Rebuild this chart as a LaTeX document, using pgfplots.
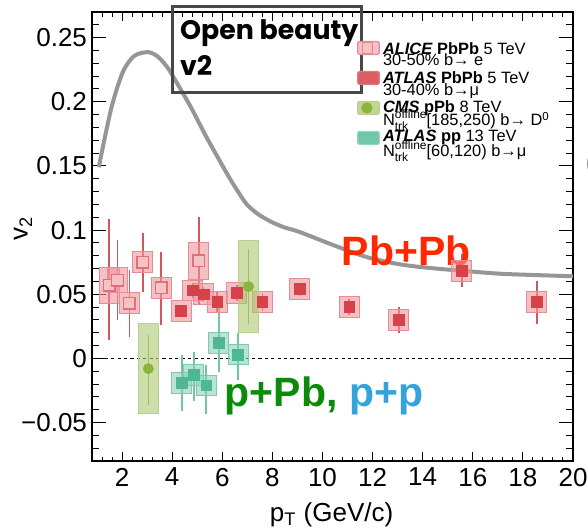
\documentclass[border=0pt]{standalone}
\usepackage{fontspec}
\setmainfont{Liberation Sans}
\newfontfamily\titlefont{Poppins}
\usepackage{pgfplots}
\usepackage{pgfplotstable}
\pgfplotsset{compat=1.18}

% colours
\definecolor{boxred}{RGB}{238,150,157}
\definecolor{boxredline}{RGB}{230,140,148}
\definecolor{redmk}{RGB}{214,66,74}
\definecolor{rederr}{RGB}{214,84,92}
\definecolor{alicemk}{RGB}{222,112,120}
\definecolor{aliceinner}{RGB}{245,194,198}
\definecolor{boxgreen}{RGB}{172,200,113}
\definecolor{boxgreenline}{RGB}{185,208,140}
\definecolor{cmsgreen}{RGB}{140,180,60}
\definecolor{boxteal}{RGB}{138,210,183}
\definecolor{boxtealline}{RGB}{130,200,175}
\definecolor{tealmk}{RGB}{78,184,150}
\definecolor{tealerr}{RGB}{110,198,168}
\definecolor{curvegray}{RGB}{150,150,150}
\definecolor{pbred}{RGB}{255,40,0}
\definecolor{ppbgreen}{RGB}{10,140,10}
\definecolor{ppblue}{RGB}{52,163,220}

% x  v2  stat+  stat-  syst
\pgfplotstableread{
x     y      ep     em     sy
1.49  0.057  0.052  0.043  0.014
1.82  0.061  0.031  0.031  0.010
2.29  0.043  0.026  0.026  0.008
2.83  0.075  0.023  0.023  0.008
3.56  0.055  0.028  0.029  0.008
5.06  0.076  0.034  0.034  0.0145
}\alice

\pgfplotstableread{
x      y      ep     em     sy
4.36   0.037  0.005  0.005  0.008
4.83   0.053  0.006  0.006  0.008
5.25   0.050  0.006  0.006  0.008
5.80   0.044  0.008  0.008  0.008
6.58   0.051  0.006  0.006  0.008
7.60   0.044  0.007  0.007  0.008
9.09   0.054  0.005  0.005  0.008
11.07  0.040  0.006  0.006  0.008
13.05  0.030  0.010  0.010  0.008
15.56  0.068  0.013  0.012  0.008
18.56  0.044  0.016  0.017  0.008
}\atlasPbPb

\pgfplotstableread{
x     y       ep     em     sy
3.05  -0.008  0.026  0.028  0.035
7.05  0.056   0.029  0.029  0.036
}\cms

\pgfplotstableread{
x     y       ep     em     sy
4.39  -0.019  0.022  0.022  0.008
4.87  -0.013  0.018  0.020  0.008
5.36  -0.021  0.016  0.022  0.008
5.86  0.012   0.030  0.023  0.008
6.63  0.003   0.017  0.020  0.008
}\atlaspp

% model curve for Pb+Pb
\pgfplotstableread{
x      y
1.07   0.149
1.30   0.171
1.57   0.195
1.84   0.213
2.10   0.226
2.50   0.236
3.04   0.2387
3.44   0.235
3.84   0.226
4.24   0.213
4.77   0.195
5.30   0.175
5.84   0.156
6.37   0.138
6.90   0.122
7.17   0.1165
7.50   0.1115
8.00   0.1060
8.50   0.1020
9.09   0.0985
10.42  0.0884
11.76  0.0790
13.09  0.0733
14.43  0.0702
15.76  0.0680
17.09  0.0660
18.42  0.0650
20.00  0.0640
}\model

\pgfplotsset{
  sysbox/.style 2 args={
    scatter, only marks, mark=*, mark size=0.01pt,
    mark options={draw=none, fill=none},
    visualization depends on={\thisrow{sy} \as \sysy},
    scatter/@pre marker code/.code={%
      \filldraw[fill=#1, fill opacity=0.6, draw=#2, line width=0.5pt]
        (axis direction cs:-0.4,-\sysy) rectangle (axis direction cs:0.4,\sysy);
    },
    scatter/@post marker code/.code={},
  },
  staterr/.style={
    draw=none, mark=none, forget plot,
    error bars/.cd, y dir=both, y explicit, error mark=none,
    error bar style={draw=#1, line width=0.8pt},
  },
}

\newcommand\ntrk{N\rlap{\raisebox{-0.5ex}{\fontsize{6}{6}\selectfont trk}}\raisebox{0.85ex}{\fontsize{6}{6}\selectfont offline}}

\begin{document}
\begin{tikzpicture}
\useasboundingbox (-46pt,-33pt) rectangle (248pt,230.5pt);
\begin{axis}[
  scale only axis, width=240.5pt, height=224.5pt,
  xmin=0.8, xmax=20, ymin=-0.08, ymax=0.27,
  clip=false,
  axis line style={line width=0.7pt},
  tick align=inside, xtick pos=both, ytick pos=both,
  xticklabel pos=lower, yticklabel pos=left,
  major tick length=7pt, minor tick length=3.5pt,
  xtick style={/pgfplots/major tick length=4.5pt, /pgfplots/minor tick length=2.25pt},
  tick style={black, line width=0.5pt},
  xtick={2,4,...,20},
  xticklabels={2,4,6,8,10,12,14,16,18,20},
  minor xtick={0.8,1.2,...,20},
  ytick={-0.05,0,0.05,0.1,0.15,0.2,0.25},
  yticklabels={−0.05,0,0.05,0.1,0.15,0.2,0.25},
  minor ytick={-0.08,-0.07,...,0.27},
  tick label style={font=\fontsize{13}{15}\selectfont},
  yticklabel style={xshift=1pt},
  xlabel={p\textsubscript{T} (GeV/c)},
  ylabel={v\textsubscript{2}},
  label style={font=\fontsize{13}{15}\selectfont},
  xlabel style={at={(axis description cs:0.498,-0.135)}, anchor=base},
  ylabel style={at={(axis description cs:-0.1435,0.519)}, anchor=center},
  legend style={at={(axis description cs:0.5503,0.9543)}, anchor=north west,
    draw=none, fill=none, inner sep=0pt, row sep=0pt,
    nodes={inner sep=0pt, text height=0pt, text depth=0pt}},
]

% legend keys
\addlegendimage{legend image code/.code={
  \path[draw=none, fill=none] (0pt,-7.5pt) rectangle (10.8pt,7.5pt);
  \filldraw[fill=aliceinner, draw=boxredline, line width=0.6pt, rounded corners=1pt] (0pt,-3.25pt) rectangle (10.8pt,3.25pt);
  \draw[alicemk!70!aliceinner, line width=0.5pt] (2.4pt,-2.6pt) rectangle (7.6pt,2.6pt);
}}
\addlegendentry{\mbox{}}
\addlegendimage{legend image code/.code={
  \path[draw=none, fill=none] (0pt,-7.5pt) rectangle (10.8pt,7.5pt);
  \filldraw[fill=redmk!85!white, draw=redmk!70!white, line width=0.6pt, rounded corners=1pt] (0pt,-3.25pt) rectangle (10.8pt,3.25pt);
}}
\addlegendentry{\mbox{}}
\addlegendimage{legend image code/.code={
  \path[draw=none, fill=none] (0pt,-7.5pt) rectangle (10.8pt,7.5pt);
  \filldraw[fill=boxgreen!75!white, draw=boxgreenline, line width=0.6pt, rounded corners=1pt] (0pt,-3.25pt) rectangle (10.8pt,3.25pt);
  \fill[cmsgreen] (4.6pt,0pt) circle (2.6pt);
}}
\addlegendentry{\mbox{}}
\addlegendimage{legend image code/.code={
  \path[draw=none, fill=none] (0pt,-7.5pt) rectangle (10.8pt,7.5pt);
  \filldraw[fill=tealmk!80!white, draw=tealmk!60!white, line width=0.6pt, rounded corners=1pt] (0pt,-3.25pt) rectangle (10.8pt,3.25pt);
}}
\addlegendentry{\mbox{}}

% zero line
\addplot[forget plot, black, line width=0.5pt, dash pattern=on 1.6pt off 1.6pt] coordinates {(0.8,0) (20,0)};

% model curve
\addplot[forget plot, curvegray, line width=2pt, smooth, tension=0.5] table[x=x,y=y]{\model};

% systematic boxes
\addplot[forget plot, sysbox={boxred}{boxredline}] table[x=x,y=y]{\alice};
\addplot[forget plot, sysbox={boxred}{boxredline}] table[x=x,y=y]{\atlasPbPb};
\addplot[forget plot, sysbox={boxgreen}{boxgreenline}] table[x=x,y=y]{\cms};
\addplot[forget plot, sysbox={boxteal}{boxtealline}] table[x=x,y=y]{\atlaspp};

% statistical error bars
\addplot[staterr=rederr] table[x=x,y=y,y error plus=ep,y error minus=em]{\alice};
\addplot[staterr=rederr] table[x=x,y=y,y error plus=ep,y error minus=em]{\atlasPbPb};
\addplot[staterr=cmsgreen] table[x=x,y=y,y error plus=ep,y error minus=em]{\cms};
\addplot[staterr=tealerr] table[x=x,y=y,y error plus=ep,y error minus=em]{\atlaspp};

% markers
\addplot[forget plot, only marks, mark=square*, mark size=2.9pt,
  mark options={draw=alicemk, fill=aliceinner, line width=0.7pt}] table[x=x,y=y]{\alice};
\addplot[forget plot, only marks, mark=square*, mark size=2.7pt,
  mark options={draw=redmk, fill=redmk, line width=0.3pt}] table[x=x,y=y]{\atlasPbPb};
\addplot[forget plot, only marks, mark=*, mark size=2.5pt,
  mark options={draw=cmsgreen, fill=cmsgreen}] table[x=x,y=y]{\cms};
\addplot[forget plot, only marks, mark=square*, mark size=2.7pt,
  mark options={draw=tealmk, fill=tealmk, line width=0.3pt}] table[x=x,y=y]{\atlaspp};

% legend text
\begin{scope}[every node/.style={anchor=base west, inner sep=0pt, font=\fontsize{8.2}{9}\selectfont}]
\node at (axis cs:12.4,0.2366) {\textbf{\textit{ALICE}} \textbf{PbPb} 5 TeV};
\node at (axis cs:12.4,0.2284) {30-50\% b→ e};
\node at (axis cs:12.4,0.2146) {\textbf{\textit{ATLAS}} \textbf{PbPb} 5 TeV};
\node at (axis cs:12.4,0.2051) {30-40\% b→μ};
\node at (axis cs:12.4,0.1913) {\textbf{\textit{CMS}} \textbf{pPb} 8 TeV};
\node at (axis cs:12.4,0.1812) {\ntrk[185,250) b→ D\textsuperscript{0}};
\node at (axis cs:12.4,0.1687) {\textbf{\textit{ATLAS}} \textbf{pp} 13 TeV};
\node at (axis cs:12.4,0.1571) {\ntrk[60,120) b→μ};
\end{scope}

% title box
\draw[black!72, line width=1.6pt] (axis cs:4.0,0.2745) rectangle (axis cs:11.56,0.2071);
\node[anchor=base west, inner sep=0pt, font=\titlefont\bfseries\fontsize{13.4}{16}\selectfont] at (axis cs:4.3,0.2488) {Open beauty};
\node[anchor=base west, inner sep=0pt, font=\titlefont\bfseries\fontsize{13.4}{16}\selectfont] at (axis cs:4.3,0.2208) {v2};

% system labels
\node[anchor=base west, inner sep=0pt, text=pbred, font=\bfseries\fontsize{20.5}{24}\selectfont] at (axis cs:10.76,0.0721) {Pb+Pb};
\node[anchor=base west, inner sep=0pt, font=\bfseries\fontsize{20.5}{24}\selectfont] at (axis cs:6.09,-0.0373) {\textcolor{ppbgreen}{p+Pb,} \textcolor{ppblue}{p+p}};

% neighbouring bracket at the edge
\node[anchor=west, inner sep=0pt, text=black!40, font=\fontsize{12}{14}\selectfont] at (axis cs:20.49,0.151) {(};
\end{axis}
\end{tikzpicture}
\end{document}
